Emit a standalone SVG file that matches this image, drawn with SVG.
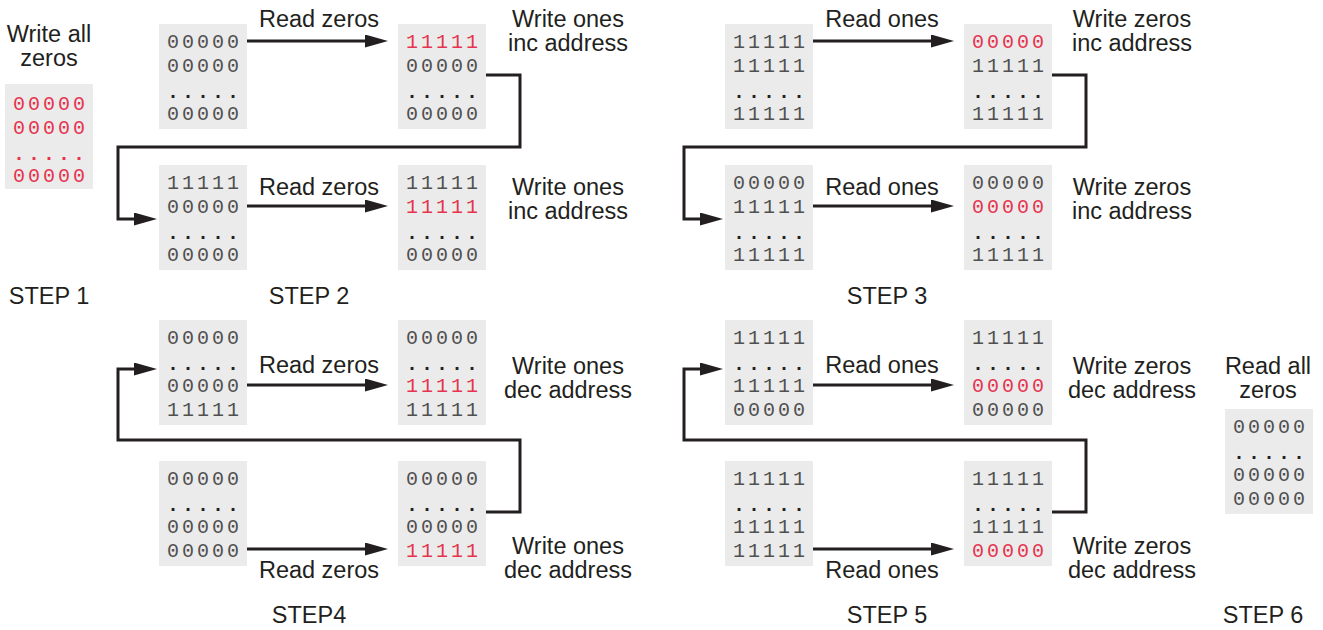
<svg xmlns="http://www.w3.org/2000/svg" width="1323" height="630" viewBox="0 0 1323 630">
<defs>
<marker id="ah" markerUnits="userSpaceOnUse" viewBox="0 0 23 13" refX="5" refY="6.5" markerWidth="23" markerHeight="13" orient="auto"><path d="M0,0 L23,6.5 L0,13 Z" fill="#231f20"/></marker>
</defs>
<style>
.box{fill:#ebebeb}
.m{font-family:"Liberation Mono","DejaVu Sans Mono",monospace;font-size:20px;letter-spacing:3px;fill:#505050}
.d{font-weight:bold;fill:#231f20}
.r{fill:#e6334f}
.l{font-family:"Liberation Sans",Arial,sans-serif;font-size:23.5px;fill:#231f20;text-anchor:middle}
.c{fill:none;stroke:#231f20;stroke-width:3}
.a{marker-end:url(#ah)}
</style>
<rect width="1323" height="630" fill="#fff"/>

<g id="step1">
<text class="l" x="49" y="42">Write all</text>
<text class="l" x="49" y="66">zeros</text>
<rect class="box" x="5" y="84" width="88" height="105"/>
<text class="m r" x="13" y="110">00000</text>
<text class="m r" x="13" y="134">00000</text>
<text class="m d r" x="13" y="160">.....</text>
<text class="m r" x="13" y="182">00000</text>
<text class="l" x="49" y="304">STEP 1</text>
</g>

<g id="s2a1"><rect class="box" x="159" y="24" width="88" height="105"/>
<text class="m" x="167" y="48">00000</text><text class="m" x="167" y="72">00000</text><text class="m d" x="167" y="98">.....</text><text class="m" x="167" y="120">00000</text></g>
<g id="s2b1"><rect class="box" x="398" y="24" width="88" height="105"/>
<text class="m r" x="406" y="48">11111</text><text class="m" x="406" y="72">00000</text><text class="m d" x="406" y="98">.....</text><text class="m" x="406" y="120">00000</text></g>
<g id="s2a2"><rect class="box" x="159" y="165" width="88" height="105"/>
<text class="m" x="167" y="189">11111</text><text class="m" x="167" y="213">00000</text><text class="m d" x="167" y="239">.....</text><text class="m" x="167" y="261">00000</text></g>
<g id="s2b2"><rect class="box" x="398" y="165" width="88" height="105"/>
<text class="m" x="406" y="189">11111</text><text class="m r" x="406" y="213">11111</text><text class="m d" x="406" y="239">.....</text><text class="m" x="406" y="261">00000</text></g>

<g id="s3a1"><rect class="box" x="725" y="24" width="88" height="105"/>
<text class="m" x="733" y="48">11111</text><text class="m" x="733" y="72">11111</text><text class="m d" x="733" y="98">.....</text><text class="m" x="733" y="120">11111</text></g>
<g id="s3b1"><rect class="box" x="964" y="24" width="88" height="105"/>
<text class="m r" x="972" y="48">00000</text><text class="m" x="972" y="72">11111</text><text class="m d" x="972" y="98">.....</text><text class="m" x="972" y="120">11111</text></g>
<g id="s3a2"><rect class="box" x="725" y="165" width="88" height="105"/>
<text class="m" x="733" y="189">00000</text><text class="m" x="733" y="213">11111</text><text class="m d" x="733" y="239">.....</text><text class="m" x="733" y="261">11111</text></g>
<g id="s3b2"><rect class="box" x="964" y="165" width="88" height="105"/>
<text class="m" x="972" y="189">00000</text><text class="m r" x="972" y="213">00000</text><text class="m d" x="972" y="239">.....</text><text class="m" x="972" y="261">11111</text></g>

<g id="s4a1"><rect class="box" x="159" y="320" width="88" height="105"/>
<text class="m" x="167" y="344">00000</text><text class="m d" x="167" y="370">.....</text><text class="m" x="167" y="392">00000</text><text class="m" x="167" y="416">11111</text></g>
<g id="s4b1"><rect class="box" x="398" y="320" width="88" height="105"/>
<text class="m" x="406" y="344">00000</text><text class="m d" x="406" y="370">.....</text><text class="m r" x="406" y="392">11111</text><text class="m" x="406" y="416">11111</text></g>
<g id="s4a2"><rect class="box" x="159" y="461" width="88" height="105"/>
<text class="m" x="167" y="485">00000</text><text class="m d" x="167" y="511">.....</text><text class="m" x="167" y="533">00000</text><text class="m" x="167" y="557">00000</text></g>
<g id="s4b2"><rect class="box" x="398" y="461" width="88" height="105"/>
<text class="m" x="406" y="485">00000</text><text class="m d" x="406" y="511">.....</text><text class="m" x="406" y="533">00000</text><text class="m r" x="406" y="557">11111</text></g>

<g id="s5a1"><rect class="box" x="725" y="320" width="88" height="105"/>
<text class="m" x="733" y="344">11111</text><text class="m d" x="733" y="370">.....</text><text class="m" x="733" y="392">11111</text><text class="m" x="733" y="416">00000</text></g>
<g id="s5b1"><rect class="box" x="964" y="320" width="88" height="105"/>
<text class="m" x="972" y="344">11111</text><text class="m d" x="972" y="370">.....</text><text class="m r" x="972" y="392">00000</text><text class="m" x="972" y="416">00000</text></g>
<g id="s5a2"><rect class="box" x="725" y="461" width="88" height="105"/>
<text class="m" x="733" y="485">11111</text><text class="m d" x="733" y="511">.....</text><text class="m" x="733" y="533">11111</text><text class="m" x="733" y="557">11111</text></g>
<g id="s5b2"><rect class="box" x="964" y="461" width="88" height="105"/>
<text class="m" x="972" y="485">11111</text><text class="m d" x="972" y="511">.....</text><text class="m" x="972" y="533">11111</text><text class="m r" x="972" y="557">00000</text></g>

<g id="step6">
<text class="l" x="1268" y="374">Read all</text>
<text class="l" x="1268" y="398">zeros</text>
<rect class="box" x="1225" y="409" width="88" height="105"/>
<text class="m" x="1233" y="433">00000</text><text class="m d" x="1233" y="459">.....</text><text class="m" x="1233" y="481">00000</text><text class="m" x="1233" y="505">00000</text>
<text class="l" x="1263" y="623">STEP 6</text>
</g>

<g id="connectors">
<path class="c a" d="M247,41 H370"/>
<path class="c a" d="M486,75 H520 V147 H118 V219 H139"/>
<path class="c a" d="M247,206 H370"/>
<path class="c a" d="M813,41 H936"/>
<path class="c a" d="M1052,75 H1086 V147 H684 V219 H705"/>
<path class="c a" d="M813,206 H936"/>
<path class="c a" d="M247,385 H370"/>
<path class="c a" d="M486,512 H520 V440 H118 V369 H139"/>
<path class="c a" d="M247,549 H370"/>
<path class="c a" d="M813,385 H936"/>
<path class="c a" d="M1052,512 H1086 V440 H684 V369 H705"/>
<path class="c a" d="M813,549 H936"/>
</g>

<g id="labels">
<text class="l" x="319" y="27">Read zeros</text>
<text class="l" x="319" y="195">Read zeros</text>
<text class="l" x="319" y="373">Read zeros</text>
<text class="l" x="319" y="578">Read zeros</text>
<text class="l" x="568" y="27">Write ones</text><text class="l" x="568" y="51">inc address</text>
<text class="l" x="568" y="195">Write ones</text><text class="l" x="568" y="219">inc address</text>
<text class="l" x="568" y="374">Write ones</text><text class="l" x="568" y="398">dec address</text>
<text class="l" x="568" y="554">Write ones</text><text class="l" x="568" y="578">dec address</text>
<text class="l" x="882" y="27">Read ones</text>
<text class="l" x="882" y="195">Read ones</text>
<text class="l" x="882" y="373">Read ones</text>
<text class="l" x="882" y="578">Read ones</text>
<text class="l" x="1132" y="27">Write zeros</text><text class="l" x="1132" y="51">inc address</text>
<text class="l" x="1132" y="195">Write zeros</text><text class="l" x="1132" y="219">inc address</text>
<text class="l" x="1132" y="374">Write zeros</text><text class="l" x="1132" y="398">dec address</text>
<text class="l" x="1132" y="554">Write zeros</text><text class="l" x="1132" y="578">dec address</text>
<text class="l" x="309" y="304">STEP 2</text>
<text class="l" x="887" y="304">STEP 3</text>
<text class="l" x="309" y="623">STEP4</text>
<text class="l" x="887" y="623">STEP 5</text>
</g>
</svg>
